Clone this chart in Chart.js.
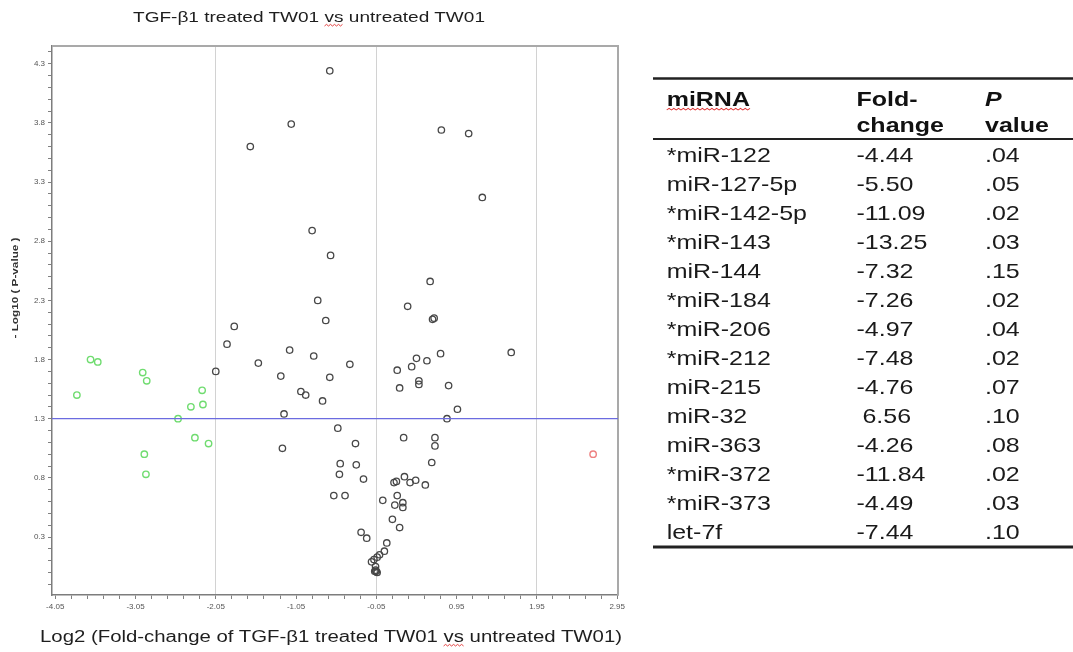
<!DOCTYPE html>
<html>
<head>
<meta charset="utf-8">
<script src="https://cdn.jsdelivr.net/npm/chart.js@4.4.0/dist/chart.umd.min.js"></script>
<style>
  html, body { margin: 0; padding: 0; background: #fff; }
  #page { position: relative; width: 1073px; height: 652px; overflow: hidden; }
  #chartBox { position: absolute; left: 0; top: 0; width: 640px; height: 625px; }
  #labels { position: absolute; left: 0; top: 0; width: 1073px; height: 652px; pointer-events: none; }
  #labels text { font-family: "Liberation Sans", Arial, sans-serif; }
</style>
</head>
<body>
<div id="page">
  <div id="chartBox"><canvas id="volcano"></canvas></div>
  <svg id="labels" xmlns="http://www.w3.org/2000/svg" width="1073" height="652"></svg>
</div>
<script>
// volcano plot values: log2 fold-change / -log10 p
var otherLog2FC = [-0.63, -1.11, -1.62, 0.76, 1.10, 1.27, -0.85, -0.62, -0.78, -0.68,
  0.62, 0.34, 0.65, 0.67, -1.82, -1.91, -1.13, -0.83, -1.52, -2.05,
  -1.24, -0.63, -0.99, -0.93, -0.72, -1.20, -0.53, -1.22, -0.50, -0.51,
  -0.58, -0.44, -0.38, -0.31, -0.30, -0.21, -0.24, -0.17, 0.45, 0.58,
  0.75, 1.63, 0.39, 0.21, 0.48, 0.48, 0.24, 0.85, 0.96, 0.83,
  0.29, 0.68, 0.68, 0.64, 0.17, 0.20, 0.30, 0.37, 0.44, 0.56,
  0.21, 0.03, 0.18, 0.28, 0.28, 0.15, 0.24, 0.08, 0.05, -0.01,
  -0.04, -0.08, -0.11, -0.06, -0.06, -0.05, -0.07, -0.04];
var otherNegLogP = [4.24, 3.79, 3.60, 3.74, 3.71, 3.17, 2.89, 2.68, 2.30, 2.13,
  2.46, 2.25, 2.14, 2.15, 2.08, 1.93, 1.88, 1.83, 1.77, 1.70,
  1.66, 1.65, 1.53, 1.50, 1.45, 1.34, 1.22, 1.05, 0.92, 0.83,
  0.65, 0.65, 1.76, 1.09, 0.91, 0.79, 0.34, 0.29, 1.81, 1.79,
  1.85, 1.86, 1.74, 1.71, 1.62, 1.59, 1.56, 1.58, 1.38, 1.30,
  1.14, 1.14, 1.07, 0.93, 0.76, 0.77, 0.81, 0.76, 0.78, 0.74,
  0.65, 0.61, 0.57, 0.59, 0.55, 0.45, 0.38, 0.25, 0.18, 0.15,
  0.13, 0.11, 0.09, 0.05, 0.02, 0.01, 0.01, 0.00];

var downLog2FC = [-3.61, -3.52, -3.78, -2.96, -2.91, -2.22, -2.36, -2.21, -2.52, -2.31, -2.14, -2.94, -2.92];
var downNegLogP = [1.80, 1.78, 1.50, 1.69, 1.62, 1.54, 1.40, 1.42, 1.30, 1.14, 1.09, 1.00, 0.83];

var upLog2FC = [2.65];
var upNegLogP = [1.00];

var pThreshold = 1.3;

// axes
var xMajorTicks = [-4.05, -3.05, -2.05, -1.05, -0.05, 0.95, 1.95, 2.95];
var yMajorTicks = [0.3, 0.8, 1.3, 1.8, 2.3, 2.8, 3.3, 3.8, 4.3];
var xGridAt = [-2.05, -0.05, 1.95];

// table
var mirnaNames = ["*miR-122", "miR-127-5p", "*miR-142-5p", "*miR-143", "miR-144", "*miR-184", "*miR-206",
  "*miR-212", "miR-215", "miR-32", "miR-363", "*miR-372", "*miR-373", "let-7f"];
var foldChanges = [-4.44, -5.50, -11.09, -13.25, -7.32, -7.26, -4.97, -7.48, -4.76, 6.56, -4.26, -11.84, -4.49, -7.44];
var pValues = [0.04, 0.05, 0.02, 0.03, 0.15, 0.02, 0.04, 0.02, 0.07, 0.10, 0.08, 0.02, 0.03, 0.10];

var FONT = '"Liberation Sans", Arial, sans-serif';

function near(a, b) { return Math.abs(a - b) < 1e-6; }

// ticks every 0.2 on x and 0.1 on y, labels only on the major ones
var xAllTicks = [];
for (var i = 0; i <= 35; i++) xAllTicks.push(Math.round((-4.05 + i * 0.2) * 100) / 100);
var yAllTicks = [];
for (var j = 0; j <= 45; j++) yAllTicks.push(Math.round((-0.1 + j * 0.1) * 100) / 100);

function points(xs, ys) {
	return xs.map(function(x, k) { return { x: x, y: ys[k] }; });
}

var framePlugin = {
	id: 'frame',
	beforeDatasetsDraw: function(chart) {
		var a = chart.chartArea, c = chart.ctx;
		c.save();
		c.strokeStyle = '#a9a9a9';
		c.lineWidth = 2;
		c.beginPath();
		c.moveTo(a.left, a.top);
		c.lineTo(a.right, a.top);
		c.lineTo(a.right, a.bottom);
		c.stroke();
		c.restore();
	},
	afterDatasetsDraw: function(chart) {
		var a = chart.chartArea, c = chart.ctx;
		var y = chart.scales.y.getPixelForValue(pThreshold);
		c.save();
		c.strokeStyle = '#6b6be0';
		c.lineWidth = 1.2;
		c.beginPath();
		c.moveTo(a.left, y);
		c.lineTo(a.right, y);
		c.stroke();
		c.restore();
	}
};

var ctx = document.getElementById('volcano');

var chart = new Chart(ctx, {
	type: 'scatter',
	data: {
		datasets: [
			{
				label: 'other',
				data: points(otherLog2FC, otherNegLogP),
				borderColor: '#474747',
				backgroundColor: 'rgba(0,0,0,0)',
				pointRadius: 3.2,
				borderWidth: 1.3
			},
			{
				label: 'down',
				data: points(downLog2FC, downNegLogP),
				borderColor: '#70dc70',
				backgroundColor: 'rgba(0,0,0,0)',
				pointRadius: 3.2,
				borderWidth: 1.4
			},
			{
				label: 'up',
				data: points(upLog2FC, upNegLogP),
				borderColor: '#ee8080',
				backgroundColor: 'rgba(0,0,0,0)',
				pointRadius: 3.2,
				borderWidth: 1.4
			}
		]
	},
	options: {
		responsive: true,
		maintainAspectRatio: false,
		animation: false,
		layout: { padding: { left: 0, top: 46, right: 22, bottom: 0 } },
		plugins: {
			legend: { display: false },
			tooltip: { enabled: false }
		},
		scales: {
			x: {
				type: 'linear',
				min: -4.09,
				max: 2.96,
				afterBuildTicks: function(s) { s.ticks = xAllTicks.map(function(v) { return { value: v }; }); },
				afterFit: function(s) { s.height = 30; },
				ticks: {
					autoSkip: false,
					maxRotation: 0,
					padding: 3,
					color: '#555',
					font: { size: 8, family: FONT },
					callback: function(v) {
						return xMajorTicks.some(function(m) { return near(m, v); }) ? v.toFixed(2) : '';
					}
				},
				grid: {
					color: function(c) {
						if (c.tick && xGridAt.some(function(g) { return near(g, c.tick.value); })) return '#d2d2d2';
						return 'rgba(0,0,0,0)';
					},
					tickColor: '#808080',
					tickLength: 4,
					lineWidth: 1
				},
				border: { color: '#7d7d7d', width: 1.5 }
			},
			y: {
				type: 'linear',
				min: -0.19,
				max: 4.45,
				afterBuildTicks: function(s) { s.ticks = yAllTicks.map(function(v) { return { value: v }; }); },
				afterFit: function(s) { s.width = 52; },
				ticks: {
					autoSkip: false,
					padding: 3,
					color: '#555',
					font: { size: 8, family: FONT },
					callback: function(v) {
						return yMajorTicks.some(function(m) { return near(m, v); }) ? v.toFixed(1) : '';
					}
				},
				grid: {
					drawOnChartArea: false,
					tickColor: '#808080',
					tickLength: 4
				},
				border: { color: '#7d7d7d', width: 1.5 }
			}
		}
	},
	plugins: [framePlugin]
});

// titles and the table as svg text
var NS = 'http://www.w3.org/2000/svg';
var svg = document.getElementById('labels');

function el(parent, name, attrs, text) {
	var e = document.createElementNS(NS, name);
	for (var k in attrs) e.setAttribute(k, attrs[k]);
	if (text !== undefined) e.textContent = text;
	parent.appendChild(e);
	return e;
}

// red spell-check squiggle
function squiggle(parent, x0, x1, y) {
	var d = 'M' + x0 + ' ' + y;
	var up = true;
	for (var x = x0 + 2; x <= x1; x += 2) {
		d += ' L' + x + ' ' + (up ? y - 1.6 : y);
		up = !up;
	}
	el(parent, 'path', { d: d, fill: 'none', stroke: '#e03030', 'stroke-width': 0.9 });
}

function squiggleUnder(parent, textEl, from, to, y, sx, ox) {
	var a = textEl.getExtentOfChar(from);
	var b = textEl.getExtentOfChar(to);
	squiggle(parent, ox + a.x * sx, ox + (b.x + b.width) * sx, y);
}

var title = el(svg, 'text', {
	x: 133, y: 22, 'font-size': 15, fill: '#1e1e1e',
	textLength: 352, lengthAdjust: 'spacingAndGlyphs'
}, 'TGF-\u03b21 treated TW01 vs untreated TW01');
squiggleUnder(svg, title, 20, 21, 26, 1, 0);

var xTitle = el(svg, 'text', {
	x: 40, y: 642, 'font-size': 16, fill: '#1e1e1e',
	textLength: 582, lengthAdjust: 'spacingAndGlyphs'
}, 'Log2 (Fold-change of TGF-\u03b21 treated TW01 vs untreated TW01)');
squiggleUnder(svg, xTitle, 41, 42, 646, 1, 0);

el(svg, 'text', {
	transform: 'translate(18,288) rotate(-90)', 'text-anchor': 'middle',
	'font-size': 9, 'font-weight': 'bold', fill: '#333',
	textLength: 101, lengthAdjust: 'spacingAndGlyphs'
}, '- Log10 ( P-value )');

// table, drawn a bit wider than the font like the picture
var tableLeft = 653, stretch = 1.19;
var g = el(svg, 'g', { transform: 'translate(' + tableLeft + ',0) scale(' + stretch + ',1)' });
var colName = 11.5, colFold = 171, colP = 279, tableW = (1073 - tableLeft) / stretch;

el(g, 'line', { x1: 0, x2: tableW, y1: 78.5, y2: 78.5, stroke: '#222', 'stroke-width': 2.4 });
el(g, 'line', { x1: 0, x2: tableW, y1: 139, y2: 139, stroke: '#222', 'stroke-width': 2 });
el(g, 'line', { x1: 0, x2: tableW, y1: 547, y2: 547, stroke: '#222', 'stroke-width': 3 });

var head = el(g, 'text', { x: colName, y: 106.5, 'font-size': 21, 'font-weight': 'bold', fill: '#111' }, 'miRNA');
el(g, 'text', { x: colFold, y: 106.5, 'font-size': 21, 'font-weight': 'bold', fill: '#111' }, 'Fold-');
el(g, 'text', { x: colFold, y: 132, 'font-size': 21, 'font-weight': 'bold', fill: '#111' }, 'change');
el(g, 'text', { x: colP, y: 106.5, 'font-size': 21, 'font-weight': 'bold', 'font-style': 'italic', fill: '#111' }, 'P');
el(g, 'text', { x: colP, y: 132, 'font-size': 21, 'font-weight': 'bold', fill: '#111' }, 'value');
var hb = head.getBBox();
squiggle(g, hb.x, hb.x + hb.width, 110);

for (var r = 0; r < mirnaNames.length; r++) {
	var base = 161.7 + r * 29.05;
	el(g, 'text', { x: colName, y: base, 'font-size': 21, fill: '#1a1a1a' }, mirnaNames[r]);
	var fc = foldChanges[r];
	el(g, 'text', { x: fc < 0 ? colFold : colFold + 5, y: base, 'font-size': 21, fill: '#1a1a1a' }, fc.toFixed(2));
	el(g, 'text', { x: colP, y: base, 'font-size': 21, fill: '#1a1a1a' }, pValues[r].toFixed(2).replace(/^0/, ''));
}
</script>
</body>
</html>
